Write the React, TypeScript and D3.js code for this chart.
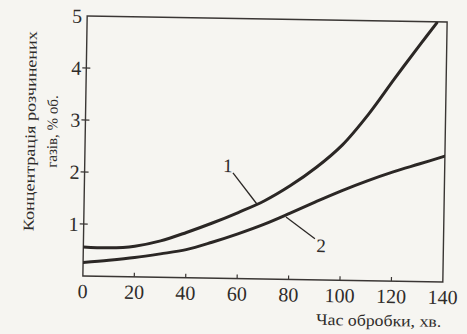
import React from 'react';
import * as d3 from 'd3';

// ─── Дані ────────────────────────────────────────────────────

const time1 = [0, 10, 20, 30, 40, 50, 60, 70, 80, 90, 100, 110, 120, 130, 136];
const gas1  = [0.56, 0.55, 0.59, 0.7, 0.87, 1.06, 1.27, 1.5, 1.8, 2.16, 2.6, 3.2, 3.9, 4.58, 4.98];

const time2 = [0, 10, 20, 30, 40, 50, 60, 70, 80, 90, 100, 110, 120, 130, 140];
const gas2  = [0.26, 0.31, 0.37, 0.45, 0.54, 0.69, 0.86, 1.05, 1.27, 1.5, 1.72, 1.92, 2.1, 2.26, 2.42];

const xTicks = [0, 20, 40, 60, 80, 100, 120, 140];
const yTicks = [1, 2, 3, 4, 5];

const yTitle1 = 'Концентрація розчинених';
const yTitle2 = 'газів, % об.';
const xTitle  = 'Час обробки, хв.';

// підписи кривих і виноски (у координатах даних)
const curveLabels = [
  { text: '1', at: [55.7, 2.18], from: [57.7, 2.03], to: [67.2, 1.44] },
  { text: '2', at: [92.4, 0.67], from: [90, 0.79], to: [78.6, 1.2] },
];

// ─── Розміри ────────────────────────────────────────────────

const W = 467;
const H = 334;
const plot = { left: 85, right: 445, top: 19, bottom: 279 };
const ink = '#2b2725';
const font = '"Liberation Serif", "Times New Roman", serif';

export default function App() {
  const x = d3.scaleLinear().domain([0, 140]).range([plot.left, plot.right]);
  const y = d3.scaleLinear().domain([0, 5]).range([plot.bottom, plot.top]);

  const line = d3.line<[number, number]>()
    .x(d => x(d[0]))
    .y(d => y(d[1]))
    .curve(d3.curveCatmullRom.alpha(0.5));

  const path1 = line(time1.map((t, i) => [t, gas1[i]]) as [number, number][]) ?? '';
  const path2 = line(time2.map((t, i) => [t, gas2[i]]) as [number, number][]) ?? '';

  const cy = (plot.top + plot.bottom) / 2;

  return (
    <div style={{ position: 'fixed', left: 0, top: 0, width: W, height: H }}>
      <svg width={W} height={H} style={{ display: 'block', background: '#f6f5f1' }}>
        <defs>
          <clipPath id="plotClip">
            <rect x={plot.left} y={plot.top} width={plot.right - plot.left} height={plot.bottom - plot.top} />
          </clipPath>
        </defs>
        {/* скан трохи повернутий */}
        <g transform="rotate(0.95 265 149)" fontFamily={font} fill="#2f2c2a">
          {/* рамка */}
          <rect x={plot.left} y={plot.top} width={plot.right - plot.left} height={plot.bottom - plot.top}
            fill="none" stroke="#3a3634" strokeWidth={1.4} />

          {/* поділки осі X */}
          {xTicks.map(t => (
            <g key={'x' + t}>
              {t > 0 && t < 140 && (
                <line x1={x(t)} x2={x(t)} y1={plot.bottom} y2={plot.bottom - 4} stroke="#3a3634" strokeWidth={1.2} />
              )}
              <text x={x(t)} y={plot.bottom + 22} fontSize={20} textAnchor="middle">{t}</text>
            </g>
          ))}

          {/* поділки осі Y */}
          {yTicks.map(t => (
            <g key={'y' + t}>
              {t < 5 && (
                <line x1={plot.left - 4} x2={plot.left + 4} y1={y(t)} y2={y(t)} stroke="#3a3634" strokeWidth={1.2} />
              )}
              <text x={plot.left - 5} y={y(t) + 7} fontSize={20} textAnchor="end">{t}</text>
            </g>
          ))}

          {/* криві */}
          <g clipPath="url(#plotClip)">
            <path d={path1} fill="none" stroke={ink} strokeWidth={3} strokeLinecap="round" />
            <path d={path2} fill="none" stroke={ink} strokeWidth={3} strokeLinecap="round" />
          </g>

          {/* підписи кривих з виносками */}
          {curveLabels.map(l => (
            <g key={l.text}>
              <line x1={x(l.from[0])} y1={y(l.from[1])} x2={x(l.to[0])} y2={y(l.to[1])} stroke={ink} strokeWidth={1.3} />
              <text x={x(l.at[0])} y={y(l.at[1]) + 7} fontSize={19} textAnchor="middle">{l.text}</text>
            </g>
          ))}

          {/* назва осі Y */}
          <text transform={`translate(35,${cy - 14}) rotate(-90)`} fontSize={15} textAnchor="middle"
            textLength={200} lengthAdjust="spacingAndGlyphs">{yTitle1}</text>
          <text transform={`translate(57,${cy - 14}) rotate(-90)`} fontSize={15} textAnchor="middle">{yTitle2}</text>

          {/* назва осі X */}
          <text x={444} y={324} fontSize={16} textAnchor="end" textLength={125} lengthAdjust="spacingAndGlyphs">{xTitle}</text>
        </g>
      </svg>
    </div>
  );
}
